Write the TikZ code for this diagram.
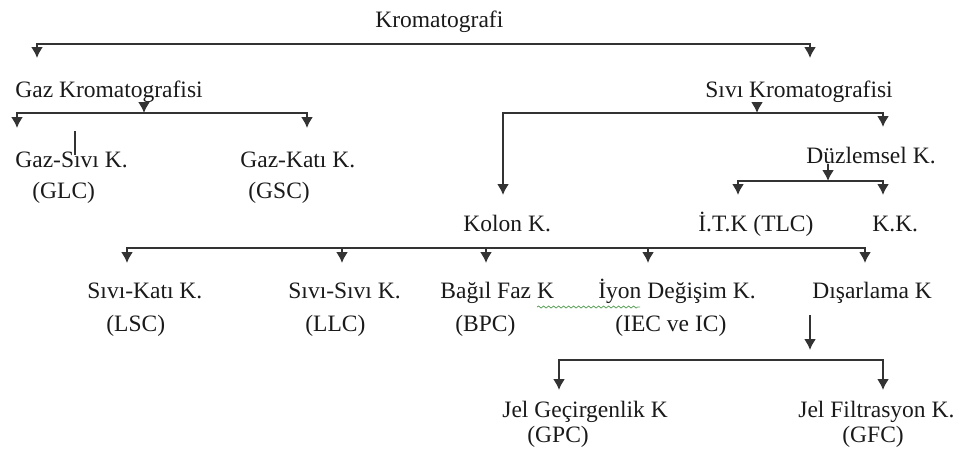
\documentclass[tikz,border=0pt]{standalone}
\usepackage{fontspec}
\setmainfont{Liberation Serif}
\usepackage{xcolor}
\usetikzlibrary{arrows.meta,calc,positioning,decorations.pathmorphing}
\definecolor{linegray}{HTML}{333333}
\definecolor{txtblack}{HTML}{1A1A1A}
\definecolor{spellgreen}{HTML}{5FA35F}
\tikzset{%
	txt/.style      = {anchor=base west, inner sep=0pt, text=txtblack, font=\fontsize{11.75}{14}\selectfont}, % Text
	waypoint/.style = {coordinate}, % Bus point
	arrow/.style    = {draw=linegray, line width=0.9pt, >={Latex[length=5.5pt,width=6pt]}},
}
\begin{document}
\begin{tikzpicture}[x=0.5pt,y=-0.5pt]
		\useasboundingbox (0,0) rectangle (956,450);
		% headings
		\node[txt] (krom) at (375,27) {Kromatografi};
		\node[txt] (gaz) at (15,97) {Gaz Kromatografisi};
		\node[txt] (sivi) at (705,97) {Sıvı Kromatografisi};
		% gas branch
		\node[txt] (gazsivi) at (15,167) {Gaz-Sıvı K.};
		\node[txt] (glc) at (32,198) {(GLC)};
		\node[txt] (gazkati) at (240,167) {Gaz-Katı K.};
		\node[txt] (gsc) at (248,198) {(GSC)};
		% liquid branch
		\node[txt] (duz) at (806,163) {Düzlemsel K.};
		\node[txt] (kolon) at (463,231) {Kolon K.};
		\node[txt] (itk) at (698,231) {İ.T.K (TLC)};
		\node[txt] (kk) at (872,231) {K.K.};
		\node[txt] (sk) at (87,298) {Sıvı-Katı K.};
		\node[txt] (lsc) at (106,331) {(LSC)};
		\node[txt] (ss) at (288,298) {Sıvı-Sıvı K.};
		\node[txt] (llc) at (305,331) {(LLC)};
		\node[txt] (bagil) at (440,298) {Bağıl Faz K};
		\node[txt] (bpc) at (455,331) {(BPC)};
		\node[txt] (iyon) at (598,298) {İyon Değişim K.};
		\node[txt] (iec) at (615,331) {(IEC ve IC)};
		\node[txt] (disar) at (812,298) {Dışarlama K};
		\node[txt] (jelg) at (502,417) {Jel Geçirgenlik K};
		\node[txt] (gpc) at (527,442) {(GPC)};
		\node[txt] (jelf) at (798,417) {Jel Filtrasyon K.};
		\node[txt] (gfc) at (842,442) {(GFC)};
		% bus points
		\node[waypoint] (kbus) at (400,44) {};
		\node[waypoint] (gaz-in) at (37,58) {};
		\node[waypoint] (sivi-in) at (810,58) {};
		\node[waypoint] (gbus) at (144,113) {};
		\node[waypoint] (gazsivi-in) at (17,128) {};
		\node[waypoint] (gazkati-in) at (307,128) {};
		\node[waypoint] (sbus) at (757,113) {};
		\node[waypoint] (kolon-in) at (503,195) {};
		\node[waypoint] (duz-in) at (883,127) {};
		\node[waypoint] (dbus) at (828,181) {};
		\node[waypoint] (itk-in) at (738,195) {};
		\node[waypoint] (kk-in) at (883,195) {};
		\node[waypoint] (cbus) at (486,248) {};
		\node[waypoint] (sk-in) at (127,263) {};
		\node[waypoint] (ss-in) at (342,263) {};
		\node[waypoint] (bagil-in) at (486,263) {};
		\node[waypoint] (iyon-in) at (648,263) {};
		\node[waypoint] (disar-in) at (865,263) {};
		\node[waypoint] (disar-out) at (810,315) {};
		\node[waypoint] (jbus) at (810,360) {};
		\node[waypoint] (jelg-in) at (559,390) {};
		\node[waypoint] (jelf-in) at (883,390) {};
		% connectors
		\draw[arrow,<->] (gaz-in) |- (kbus) -| (sivi-in);
		\draw[arrow,<->] (gazsivi-in) |- (gbus) -| (gazkati-in);
		\draw[arrow,->] (gbus |- gaz.south) -- (gbus);
		\draw[arrow,<->] (kolon-in) |- (sbus) -| (duz-in);
		\draw[arrow,->] (sbus |- sivi.south) -- (sbus);
		\draw[arrow,<->] (itk-in) |- (dbus) -| (kk-in);
		\draw[arrow,->] (dbus |- duz.south) -- (dbus);
		\draw[arrow,<->] (sk-in) |- (cbus) -| (disar-in);
		\draw[arrow,->] (ss-in |- cbus) -- (ss-in);
		\draw[arrow,->] (cbus) -- (bagil-in);
		\draw[arrow,->] (iyon-in |- cbus) -- (iyon-in);
		\draw[arrow,->] (disar-out) -- ($(jbus)+(0,-10)$);
		\draw[arrow,<->] (jelg-in) |- (jbus) -| (jelf-in);
		% marks
		\draw[linegray, line width=0.9pt] (75,131) -- (75,155);
		\draw[spellgreen, line width=0.4pt, decorate, decoration={snake, amplitude=0.5pt, segment length=2.5pt}] (537,307) -- (640,307);
	\end{tikzpicture}
\end{document}
